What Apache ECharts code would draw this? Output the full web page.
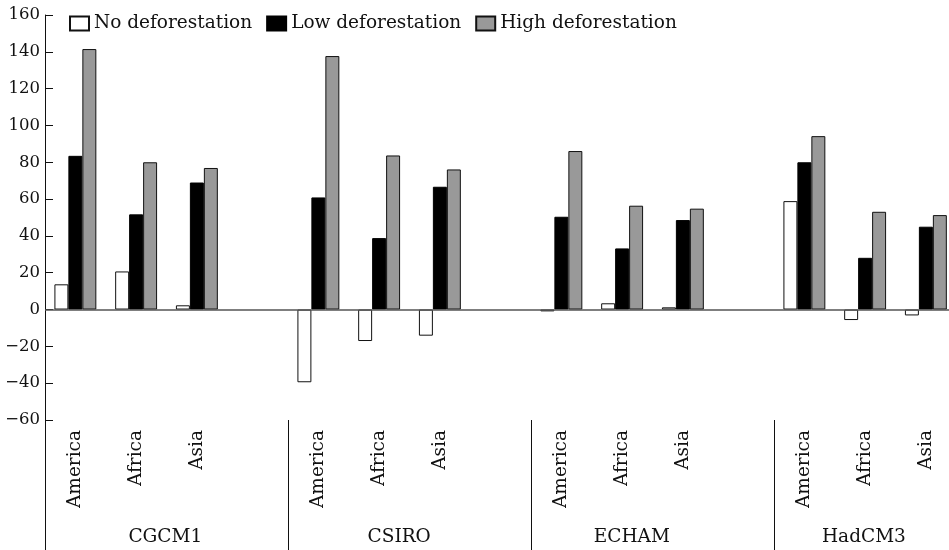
<!DOCTYPE html>
<html>
<head>
<meta charset="utf-8">
<script src="https://cdn.jsdelivr.net/npm/echarts@6/dist/echarts.min.js"></script>
<style>
  html, body { margin: 0; padding: 0; background: #fff; }
</style>
</head>
<body>
<div id="main" style="width: 949px; height: 550px;"></div>
<script type="text/javascript">
// models and regions
var models = ['CGCM1', 'CSIRO', 'ECHAM', 'HadCM3'];
var regions = ['America', 'Africa', 'Asia'];

// values, model by model (America, Africa, Asia)
var noDeforestation   = [13.7, 20.7, 2.3,  -39.5, -17.1, -14.2,  -1.0, 3.4, 1.2,   58.9, -5.7, -3.2];
var lowDeforestation  = [83.5, 51.7, 69.0,  60.9, 38.8, 66.7,    50.4, 33.2, 48.6,  80.0, 28.1, 45.0];
var highDeforestation = [141.5, 80.0, 76.9, 137.7, 83.7, 76.1,   86.1, 56.4, 54.8,  94.2, 53.1, 51.3];

// y ticks
var yMin = -60, yMax = 160, yStep = 20;

// where the model names sit under the groups (in category slots)
var modelLabelPos = [1.48, 5.33, 9.16, 12.98];

// each model gets 3 region slots and one empty slot
var categories = [];
models.forEach(function () {
    regions.forEach(function (r) { categories.push(r); });
    categories.push('');
});
function spread(vals) {
    var res = [];
    for (var i = 0; i < vals.length; i++) {
        res.push(vals[i]);
        if (i % 3 === 2) res.push(null);
    }
    return res;
}

var font = 'DejaVu Serif';
var myChart = echarts.init(document.getElementById('main'));

var option = {
    backgroundColor: '#fff',
    animation: false,
    textStyle: { fontFamily: font, color: '#111' },
    legend: {
        left: 69,
        top: 14,
        padding: 0,
        icon: 'rect',
        itemWidth: 19,
        itemHeight: 14,
        itemGap: 14,
        textStyle: { fontFamily: font, fontSize: 18.5, color: '#111' },
        data: ['No deforestation', 'Low deforestation', 'High deforestation']
    },
    grid: { left: 45, top: 15, width: 972, height: 405, containLabel: false, outerBoundsMode: 'none' },
    xAxis: [
        {
            type: 'category',
            data: categories,
            position: 'bottom',
            axisLine: { onZero: false, show: false },
            axisTick: {
                show: true,
                length: 130,
                inside: false,
                interval: function (index) { return index % 4 === 0; },
                lineStyle: { color: '#111', width: 1 }
            },
            axisLabel: {
                rotate: 90,
                margin: 10,
                interval: 0,
                fontFamily: font,
                fontSize: 18.5,
                color: '#111'
            }
        },
        {
            type: 'value',
            min: -0.5,
            max: 15.5,
            position: 'bottom',
            offset: 100,
            axisLine: { show: false, onZero: false },
            axisTick: { show: false },
            splitLine: { show: false },
            axisLabel: {
                customValues: modelLabelPos,
                margin: 8,
                fontFamily: font,
                fontSize: 18.5,
                color: '#111',
                formatter: function (v) {
                    var i = modelLabelPos.indexOf(v);
                    return i >= 0 ? models[i] : '';
                }
            }
        }
    ],
    yAxis: {
        type: 'value',
        min: yMin,
        max: yMax,
        interval: yStep,
        axisLine: { show: true, onZero: false, lineStyle: { color: '#111', width: 1 } },
        axisTick: { show: true, inside: true, length: 8, lineStyle: { color: '#111' } },
        splitLine: { show: false },
        axisLabel: {
            margin: 5,
            fontFamily: font,
            fontSize: 16.5,
            color: '#111',
            formatter: function (v) { return v < 0 ? '\u2212' + Math.abs(v) : String(v); }
        }
    },
    series: [
        {
            name: 'No deforestation',
            type: 'bar',
            data: spread(noDeforestation),
            barGap: '0%',
            barCategoryGap: '31%',
            itemStyle: { color: '#ffffff', borderColor: '#111', borderWidth: 1 },
            markLine: {
                silent: true,
                symbol: 'none',
                label: { show: false },
                lineStyle: { color: '#555', width: 1.5, type: 'solid' },
                data: [{ yAxis: 0 }]
            }
        },
        {
            name: 'Low deforestation',
            type: 'bar',
            data: spread(lowDeforestation),
            barGap: '0%',
            barCategoryGap: '31%',
            itemStyle: { color: '#000000', borderColor: '#000', borderWidth: 1 }
        },
        {
            name: 'High deforestation',
            type: 'bar',
            data: spread(highDeforestation),
            barGap: '0%',
            barCategoryGap: '31%',
            itemStyle: { color: '#999999', borderColor: '#111', borderWidth: 1 }
        }
    ]
};

myChart.setOption(option);
</script>
</body>
</html>
